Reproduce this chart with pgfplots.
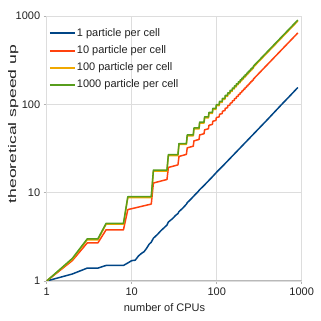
\documentclass[border=0pt]{standalone}
\usepackage{fontspec}
\setmainfont{Liberation Sans}
\usepackage{graphicx}
\usepackage{pgfplots}
\pgfplotsset{compat=1.18}
\definecolor{lblue}{HTML}{004586}
\definecolor{lred}{HTML}{FF420E}
\definecolor{lyellow}{HTML}{F0A800}
\definecolor{lgreen}{HTML}{579D1C}
\definecolor{gridc}{HTML}{DDDDDD}
\definecolor{txt}{HTML}{222222}

\begin{document}
\begin{tikzpicture}[font=\fontsize{11}{13}\selectfont]
\begin{axis}[
  name=ax,
  scale only axis, width=255pt, height=265pt,
  xmode=log, ymode=log,
  xmin=1, xmax=1000, ymin=1, ymax=1000,
  xtick={1,10,100,1000}, xticklabels={1,10,100,1000},
  ytick={1,10,100,1000}, yticklabels={1,10,100,1000},
  xminorticks=false, yminorticks=false,
  grid=major, major grid style={draw=gridc, line width=0.8pt},
  axis line style={draw=gridc, line width=0.8pt},
  tick style={draw=gray!60, line width=0.8pt},
  major tick length=3pt, tick align=outside, tick pos=left,
  ticklabel style={text=txt},
  xlabel={number of CPUs},
  ylabel={\scalebox{1.6}[1]{theoretical speed up}},
  xlabel style={at={(axis description cs:0.462,-0.102)}, anchor=center, text=txt},
  ylabel style={at={(axis description cs:-0.131,0.592)}, anchor=center, text=txt},
  legend style={at={(axis description cs:0,1)}, anchor=north west,
    xshift=2pt, yshift=-11pt, draw=none, fill=none, inner sep=0pt,
    row sep=4.7pt, text=txt,
    nodes={inner sep=1pt, text height=8pt, text depth=2.5pt}},
  legend cell align=left,
  legend image code/.code={\draw[#1, line width=2pt] (0pt,0pt) -- (25pt,0pt);},
  every axis plot/.append style={line width=1.5pt, line join=round},
]
\draw[gray!55, line width=1.3pt] (rel axis cs:0,0) -- (rel axis cs:1,0);
\addplot[lblue, mark=none] coordinates {
(1,1) (2,1.2) (3,1.4) (4,1.4) (5,1.5) (6,1.5) (7,1.5) (8,1.5) (9,1.6) (10,1.7)
(11,1.72) (12,1.92) (13,2.05) (14,2.15) (15,2.35) (16,2.6) (17,2.75) (18,3.05)
(20,3.35) (22,3.7) (24,4.0) (26,4.3) (27,4.65) (30,5.05) (33,5.55) (35,5.8)
(36,6.1) (40,6.7) (44,7.4) (45,7.7) (50,8.5) (54,9.2) (60,10.2) (63,10.8)
(70,11.9) (80,13.6) (90,15.3) (100,17.1) (120,20.4) (150,25.5) (200,34)
(250,42.5) (300,51) (400,68) (500,85.5) (600,103) (700,120) (800,137.5) (900,155)
};
\addlegendentry{1 particle per cell}
\addplot[lred, mark=none] coordinates {
(1,1) (2,1.7) (3,2.7) (4,2.7) (5,3.8) (8,3.8) (9,6.43) (17,7.43) (18,12.86)
(26,14.10) (27,19.29) (35,20.63) (36,25.71) (44,27.12) (45,32.14) (53,33.59)
(54,38.57) (62,40.05) (63,45.0) (71,46.5) (72,51.43) (80,52.94) (81,57.86)
(89,59.38) (90,64.29) (98,65.82) (99,70.71) (107,72.26) (108,77.14) (116,78.69)
(117,83.57) (125,85.13) (126,90.0) (134,91.56) (135,96.43) (143,98.0) (144,102.86)
(152,104.43) (153,109.29) (161,110.86) (162,115.71) (170,117.29) (171,122.14)
(179,123.72) (180,128.57) (188,130.17) (189,135.0) (197,136.6) (198,141.43)
(206,143.03) (207,147.86) (215,149.46) (216,154.29) (224,155.89) (225,160.71)
(233,162.31) (234,167.14) (242,168.74) (243,173.57) (251,175.17) (252,180.0)
(260,181.6) (261,186.43) (269,188.03) (270,192.86) (315,225.0) (360,257.14)
(450,321.43) (540,385.71) (630,450.0) (720,514.29) (810,578.57) (900,642.86)
};
\addlegendentry{10 particle per cell}
\addplot[lyellow, mark=none] coordinates {
(1,1) (2,1.76) (3,2.93) (4,2.93) (5,4.39) (8,4.39) (9,8.78) (17,8.78) (18,17.55)
(26,17.55) (27,26.33) (35,26.33) (36,35.1) (44,35.1) (45,43.88) (53,43.88)
(54,52.65) (62,52.65) (63,61.43) (71,61.43) (72,70.2) (80,70.2) (81,78.98)
(89,78.98) (90,87.75) (98,87.75) (99,96.53) (107,96.53) (108,105.3) (116,105.3)
(117,114.08) (125,114.08) (126,122.85) (134,122.85) (135,131.63) (143,131.63)
(144,140.4) (152,140.4) (153,149.18) (161,149.18) (162,157.95) (170,157.95)
(171,166.73) (179,166.73) (180,175.5) (188,175.5) (189,184.28) (197,184.28)
(198,193.05) (206,193.05) (207,201.83) (215,201.83) (216,210.6) (224,210.6)
(225,219.38) (233,219.38) (234,228.15) (242,228.15) (243,236.93) (251,236.93)
(252,245.7) (260,245.7) (261,254.48) (269,254.48) (270,263.25) (315,307.13)
(360,351) (450,438.75) (540,526.5) (630,614.25) (720,702) (810,789.75) (900,877.5)
};
\addlegendentry{100 particle per cell}
\addplot[lgreen, mark=none] coordinates {
(1,1) (2,1.8) (3,3) (4,3) (5,4.5) (8,4.5) (9,9) (17,9) (18,18) (26,18) (27,27)
(35,27) (36,36) (44,36) (45,45) (53,45) (54,54) (62,54) (63,63) (71,63) (72,72)
(80,72) (81,81) (89,81) (90,90) (98,90) (99,99) (107,99) (108,108) (116,108)
(117,117) (125,117) (126,126) (134,126) (135,135) (143,135) (144,144) (152,144)
(153,153) (161,153) (162,162) (170,162) (171,171) (179,171) (180,180) (188,180)
(189,189) (197,189) (198,198) (206,198) (207,207) (215,207) (216,216) (224,216)
(225,225) (233,225) (234,234) (242,234) (243,243) (251,243) (252,252) (260,252)
(261,261) (269,261) (270,270) (315,315) (360,360) (450,450) (540,540) (630,630)
(720,720) (810,810) (900,900)
};
\addlegendentry{1000 particle per cell}
\end{axis}
\path ([shift={(-46.7pt,-40pt)}]ax.south west) rectangle ([shift={(19.3pt,16pt)}]ax.north east);
\end{tikzpicture}
\end{document}
